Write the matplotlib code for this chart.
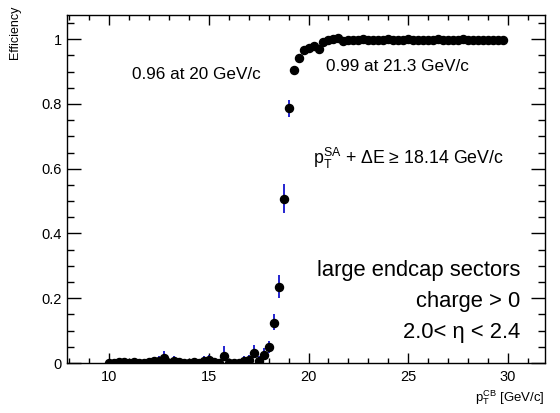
import numpy as np
import matplotlib
matplotlib.use("Agg")
import matplotlib.pyplot as plt
from matplotlib.ticker import MultipleLocator

plt.rcParams['font.family'] = ['Liberation Sans', 'DejaVu Sans']
plt.rcParams['mathtext.fontset'] = 'custom'
plt.rcParams['mathtext.rm'] = 'Liberation Sans'
plt.rcParams['mathtext.it'] = 'Liberation Sans'

# bin centres (GeV/c)
pt = [10.0, 10.25, 10.5, 10.75, 11.0, 11.25, 11.5, 11.75, 12.0, 12.25,
      12.5, 12.75, 13.0, 13.25, 13.5, 13.75, 14.0, 14.25, 14.5, 14.75,
      15.0, 15.25, 15.5, 15.75, 16.0, 16.25, 16.5, 16.75, 17.0, 17.25,
      17.5, 17.75, 18.0, 18.25, 18.5, 18.75, 19.0, 19.25, 19.5, 19.75,
      20.0, 20.25, 20.5, 20.75, 21.0, 21.25, 21.5, 21.75, 22.0, 22.25,
      22.5, 22.75, 23.0, 23.25, 23.5, 23.75, 24.0, 24.25, 24.5, 24.75,
      25.0, 25.25, 25.5, 25.75, 26.0, 26.25, 26.5, 26.75, 27.0, 27.25,
      27.5, 27.75, 28.0, 28.25, 28.5, 28.75, 29.0, 29.25, 29.5, 29.75]

eff = [0.0, 0.0, 0.004, 0.002, 0.001, 0.004, 0.0, 0.001, 0.002, 0.005,
       0.006, 0.015, 0.0, 0.007, 0.002, 0.001, 0.0, 0.002, 0.001, 0.006,
       0.008, 0.003, 0.0, 0.022, 0.0, 0.0, 0.001, 0.006, 0.008, 0.030,
       0.007, 0.025, 0.048, 0.125, 0.235, 0.508, 0.787, 0.906, 0.942, 0.966,
       0.974, 0.979, 0.970, 0.990, 0.996, 1.000, 1.003, 0.995, 0.996, 0.998,
       0.997, 0.999, 0.998, 0.997, 0.996, 0.998, 0.999, 0.998, 0.997, 0.998,
       0.999, 0.998, 0.997, 0.996, 0.998, 0.998, 0.999, 0.997, 0.998, 0.997,
       0.998, 0.999, 0.998, 0.997, 0.998, 0.997, 0.997, 0.998, 0.997, 0.996]

err_up = [0.008, 0.008, 0.012, 0.010, 0.009, 0.012, 0.008, 0.010, 0.010, 0.014,
          0.015, 0.022, 0.009, 0.016, 0.010, 0.010, 0.009, 0.011, 0.010, 0.015,
          0.018, 0.012, 0.010, 0.030, 0.010, 0.010, 0.012, 0.016, 0.018, 0.025,
          0.016, 0.022, 0.020, 0.027, 0.036, 0.044, 0.025, 0.012, 0.008, 0.006,
          0.005, 0.004, 0.005, 0.003, 0.002, 0.0, 0.0, 0.002, 0.002, 0.002,
          0.002, 0.001, 0.002, 0.002, 0.002, 0.002, 0.001, 0.002, 0.002, 0.002,
          0.001, 0.002, 0.002, 0.002, 0.002, 0.002, 0.001, 0.002, 0.002, 0.002,
          0.002, 0.001, 0.002, 0.002, 0.002, 0.002, 0.002, 0.002, 0.002, 0.003]

err_dn = [0.0, 0.0, 0.003, 0.002, 0.001, 0.003, 0.0, 0.001, 0.002, 0.004,
          0.005, 0.010, 0.0, 0.006, 0.002, 0.001, 0.0, 0.002, 0.001, 0.005,
          0.006, 0.003, 0.0, 0.014, 0.0, 0.0, 0.001, 0.005, 0.006, 0.015,
          0.006, 0.014, 0.016, 0.024, 0.034, 0.044, 0.026, 0.014, 0.010, 0.008,
          0.007, 0.006, 0.007, 0.005, 0.004, 0.003, 0.004, 0.004, 0.004, 0.003,
          0.003, 0.003, 0.003, 0.003, 0.004, 0.003, 0.003, 0.003, 0.003, 0.003,
          0.003, 0.003, 0.003, 0.004, 0.003, 0.003, 0.003, 0.003, 0.003, 0.003,
          0.003, 0.003, 0.003, 0.003, 0.003, 0.003, 0.003, 0.003, 0.003, 0.004]

fig = plt.figure(figsize=(5.6, 4.13), dpi=100)
ax = fig.add_axes([0.120, 0.121, 0.853, 0.843])

ax.errorbar(pt, eff, yerr=[err_dn, err_up], fmt='o', color='black',
            ecolor='#0000c8', elinewidth=1.2, capsize=0, markersize=5.8,
            zorder=3)

ax.set_xlim(7.9, 31.85)
ax.set_ylim(0, 1.075)
ax.xaxis.set_major_locator(MultipleLocator(5))
ax.xaxis.set_minor_locator(MultipleLocator(1))
ax.yaxis.set_major_locator(MultipleLocator(0.2))
ax.yaxis.set_minor_locator(MultipleLocator(0.05))
ax.set_yticks([0, 0.2, 0.4, 0.6, 0.8, 1.0])
ax.set_yticklabels(['0', '0.2', '0.4', '0.6', '0.8', '1'])

ax.tick_params(axis='both', which='both', direction='in', top=True, right=True,
               labelsize=10.5, width=1.0)
ax.tick_params(axis='x', which='major', length=7.2, pad=5)
ax.tick_params(axis='x', which='minor', length=3.6)
ax.tick_params(axis='y', which='major', length=10, pad=4)
ax.tick_params(axis='y', which='minor', length=5)
for s in ax.spines.values():
    s.set_linewidth(1.0)

fig.text(15/560, 1 - 6/413, 'Efficiency', rotation=90, ha='center', va='top',
         fontsize=9)
fig.text(545/560, 1 - 398/413, r'$\mathregular{p_{T}^{CB}}$ [GeV/c]',
         ha='right', va='center', fontsize=9.5)

ax.text(0.135, 0.828, '0.96 at 20 GeV/c', transform=ax.transAxes,
        ha='left', va='center', fontsize=12.3)
ax.text(0.542, 0.851, '0.99 at 21.3 GeV/c', transform=ax.transAxes,
        ha='left', va='center', fontsize=12.3)
ax.text(0.514, 0.589, r'$\mathregular{p_{T}^{SA}}$ + ΔE ≥ 18.14 GeV/c',
        transform=ax.transAxes, ha='left', va='center', fontsize=12.8)
ax.text(0.949, 0.267, 'large endcap sectors', transform=ax.transAxes,
        ha='right', va='center', fontsize=15.8)
ax.text(0.949, 0.178, 'charge > 0', transform=ax.transAxes,
        ha='right', va='center', fontsize=15.8)
ax.text(0.949, 0.089, '2.0< η < 2.4', transform=ax.transAxes,
        ha='right', va='center', fontsize=15.8)

fig.savefig('out.png', dpi=100)
